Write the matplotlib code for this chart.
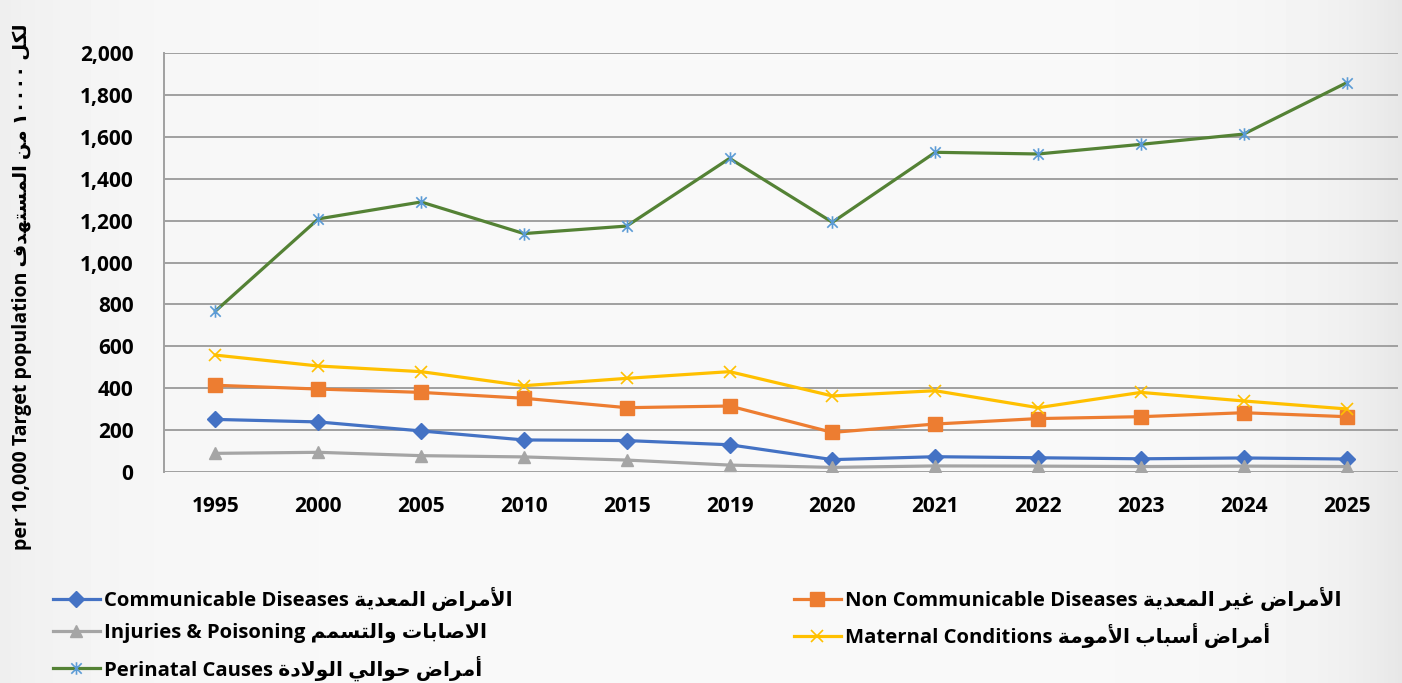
import matplotlib
matplotlib.use("Agg")
import matplotlib.pyplot as plt
import numpy as np
from matplotlib.path import Path

years = ["1995", "2000", "2005", "2010", "2015", "2019", "2020", "2021", "2022", "2023", "2024", "2025"]
communicable = [251, 239, 196, 153, 150, 130, 59, 73, 68, 63, 67, 62]
non_communicable = [414, 396, 380, 352, 307, 315, 189, 229, 255, 264, 283, 264]
injuries = [89, 94, 78, 72, 57, 33, 22, 29, 28, 26, 28, 26]
maternal = [558, 506, 479, 412, 447, 479, 363, 388, 307, 380, 339, 301]
perinatal = [768, 1208, 1289, 1138, 1174, 1497, 1192, 1526, 1518, 1564, 1613, 1858]

# Arabic presentation forms: isolated, final, initial, medial
FORMS = {
    "\u0627": (0xFE8D, 0xFE8E, None, None),
    "\u0623": (0xFE83, 0xFE84, None, None),
    "\u0628": (0xFE8F, 0xFE90, 0xFE91, 0xFE92),
    "\u0629": (0xFE93, 0xFE94, None, None),
    "\u062A": (0xFE95, 0xFE96, 0xFE97, 0xFE98),
    "\u062D": (0xFEA1, 0xFEA2, 0xFEA3, 0xFEA4),
    "\u062F": (0xFEA9, 0xFEAA, None, None),
    "\u0631": (0xFEAD, 0xFEAE, None, None),
    "\u0633": (0xFEB1, 0xFEB2, 0xFEB3, 0xFEB4),
    "\u0635": (0xFEB9, 0xFEBA, 0xFEBB, 0xFEBC),
    "\u0636": (0xFEBD, 0xFEBE, 0xFEBF, 0xFEC0),
    "\u0639": (0xFEC9, 0xFECA, 0xFECB, 0xFECC),
    "\u063A": (0xFECD, 0xFECE, 0xFECF, 0xFED0),
    "\u0641": (0xFED1, 0xFED2, 0xFED3, 0xFED4),
    "\u0643": (0xFED9, 0xFEDA, 0xFEDB, 0xFEDC),
    "\u0644": (0xFEDD, 0xFEDE, 0xFEDF, 0xFEE0),
    "\u0645": (0xFEE1, 0xFEE2, 0xFEE3, 0xFEE4),
    "\u0646": (0xFEE5, 0xFEE6, 0xFEE7, 0xFEE8),
    "\u0647": (0xFEE9, 0xFEEA, 0xFEEB, 0xFEEC),
    "\u0648": (0xFEED, 0xFEEE, None, None),
    "\u064A": (0xFEF1, 0xFEF2, 0xFEF3, 0xFEF4),
}
LAM_ALEF = {"\u0627": (0xFEFB, 0xFEFC), "\u0623": (0xFEF7, 0xFEF8)}


def shape_word(word):
    # merge lam + alef into ligatures first
    chars = []
    i = 0
    while i < len(word):
        if word[i] == "\u0644" and i + 1 < len(word) and word[i + 1] in LAM_ALEF:
            chars.append(("LA", word[i + 1]))
            i += 2
        else:
            chars.append(("C", word[i]))
            i += 1

    def joins_left(item):
        # can connect to the following letter
        kind, c = item
        return kind == "C" and c in FORMS and FORMS[c][2] is not None

    def joins(item):
        kind, c = item
        return kind == "LA" or c in FORMS

    out = []
    for k, item in enumerate(chars):
        kind, c = item
        prev_j = k > 0 and joins_left(chars[k - 1])
        next_j = k + 1 < len(chars) and joins(chars[k + 1]) and joins_left(item)
        if kind == "LA":
            out.append(chr(LAM_ALEF[c][1 if prev_j else 0]))
            continue
        if c not in FORMS:
            out.append(c)
            continue
        iso, fin, ini, med = FORMS[c]
        if prev_j and next_j:
            out.append(chr(med))
        elif prev_j:
            out.append(chr(fin))
        elif next_j:
            out.append(chr(ini))
        else:
            out.append(chr(iso))
    return "".join(out)


def arabic(text):
    words = []
    for w in text.split(" "):
        if all(ch in "٠١٢٣٤٥٦٧٨٩" for ch in w):
            words.append(w)
        else:
            words.append(shape_word(w)[::-1])
    return " ".join(words[::-1])


labels = {
    "comm": "Communicable Diseases " + arabic("الأمراض المعدية"),
    "noncomm": "Non Communicable Diseases " + arabic("الأمراض غير المعدية"),
    "inj": "Injuries & Poisoning " + arabic("الاصابات والتسمم"),
    "mat": "Maternal Conditions " + arabic("أمراض أسباب الأمومة"),
    "peri": "Perinatal Causes " + arabic("أمراض حوالي الولادة"),
}
ylabel = "per 10,000 Target population " + arabic("لكل ١٠٠٠٠ من المستهدف")

plt.rcParams["font.family"] = ["Open Sans", "DejaVu Sans"]
plt.rcParams["font.weight"] = "bold"

fig = plt.figure(figsize=(14.02, 6.83), dpi=100)

# soft grey-white backdrop
bg = fig.add_axes([0, 0, 1, 1], zorder=-10)
xs = np.linspace(0, 1, 400)
shade = 0.975 - 0.04 * np.exp(-xs / 0.08) - 0.07 * np.exp(-(1 - xs) / 0.06)
bg.imshow(np.tile(shade, (10, 1)), cmap="gray", vmin=0, vmax=1, aspect="auto",
          extent=[0, 1, 0, 1])
bg.axis("off")

ax = fig.add_axes([164 / 1402, 1 - 472 / 683, 1234 / 1402, 419 / 683])
ax.patch.set_alpha(0)

x = np.arange(len(years))
star = Path([(-1, -1), (1, 1), (-1, 1), (1, -1), (0, -1.2), (0, 1.2)],
            [Path.MOVETO, Path.LINETO, Path.MOVETO, Path.LINETO, Path.MOVETO, Path.LINETO])

l_comm, = ax.plot(x, communicable, color="#4472C4", lw=2.3, marker="D", ms=8, label=labels["comm"])
l_non, = ax.plot(x, non_communicable, color="#ED7D31", lw=2.3, marker="s", ms=10, label=labels["noncomm"])
l_inj, = ax.plot(x, injuries, color="#A5A5A5", lw=2.3, marker="^", ms=9, label=labels["inj"])
l_mat, = ax.plot(x, maternal, color="#FFC000", lw=2.3, marker="x", ms=9, mew=1.2, label=labels["mat"])
l_peri, = ax.plot(x, perinatal, color="#548235", lw=2.3, marker=star, ms=9, mew=1.2,
                  mec="#5B9BD5", label=labels["peri"])

ax.set_xlim(-0.5, len(years) - 0.5)
ax.set_ylim(0, 2000)
ax.set_yticks(range(0, 2001, 200))
ax.yaxis.set_major_formatter(matplotlib.ticker.FuncFormatter(lambda v, p: f"{int(v):,}"))
ax.set_xticks(x)
ax.set_xticklabels(years)
ax.grid(axis="y", color="#A0A0A0", lw=1.4)
ax.set_axisbelow(True)
for s in ["top", "right", "bottom"]:
    ax.spines[s].set_visible(False)
ax.spines["left"].set_color("#A0A0A0")
ax.spines["left"].set_linewidth(1.4)
ax.tick_params(axis="both", length=0, labelsize=15)
ax.tick_params(axis="y", pad=22)
ax.tick_params(axis="x", pad=17)

fig.text(22 / 1402, 1 - 287 / 683, ylabel, rotation=90, ha="center", va="center", fontsize=14)

legend_kw = dict(frameon=False, fontsize=14.6, handlelength=2.3, handletextpad=0.2,
                 labelspacing=0.6, loc="upper left", borderaxespad=0, borderpad=0)
leg1 = fig.legend(handles=[l_comm, l_inj, l_peri], bbox_to_anchor=(53 / 1402, 1 - 587 / 683), **legend_kw)
leg2 = fig.legend(handles=[l_non, l_mat], bbox_to_anchor=(794 / 1402, 1 - 587 / 683), **legend_kw)

fig.savefig("out.png", dpi=100)
